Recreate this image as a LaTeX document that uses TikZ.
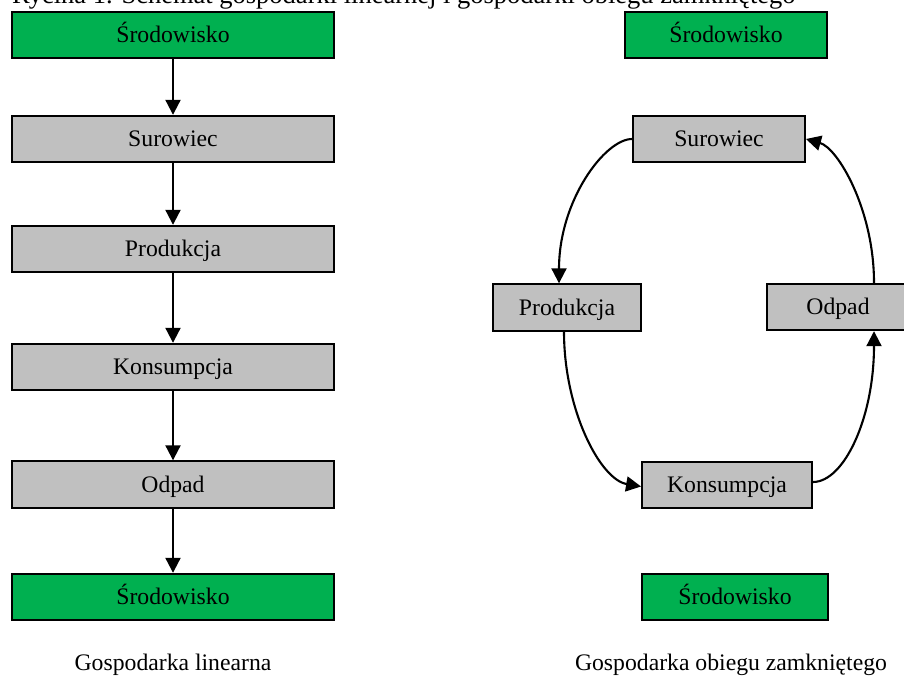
\documentclass[tikz,border=0pt]{standalone}
\usepackage{fontspec}
\setmainfont{Liberation Serif}
\usetikzlibrary{arrows.meta}
\definecolor{envgreen}{HTML}{00B050}
\definecolor{boxgray}{HTML}{C0C0C0}
\begin{document}
\begin{tikzpicture}[x=1pt,y=-1pt,
  box/.style={draw=black, line width=1.9pt, fill=boxgray, minimum height=46.5pt,
    inner sep=0pt, text height=15.7pt, text depth=0pt,
    font=\fontsize{23.7}{28}\selectfont, anchor=center},
  env/.style={box, fill=envgreen},
  arr/.style={line width=2.1pt, -{Triangle[length=15pt,width=15pt]}},
  lbl/.style={inner sep=0pt, anchor=base, font=\fontsize{23.7}{28}\selectfont}
]
\useasboundingbox (0,0) rectangle (904,675);
\node[anchor=base west, inner sep=0pt, font=\fontsize{26.5}{30}\selectfont] (title) at (12,3.5)
  {Rycina 1. Schemat gospodarki linearnej i gospodarki obiegu zamkniętego};

% linear economy
\node[env, minimum width=322pt] (LE1) at (173,35) {Środowisko};
\node[box, minimum width=322pt] (LS) at (173,139) {Surowiec};
\node[box, minimum width=322pt] (LP) at (173,249) {Produkcja};
\node[box, minimum width=322pt] (LK) at (173,367) {Konsumpcja};
\node[box, minimum width=322pt] (LO) at (173,484.5) {Odpad};
\node[env, minimum width=322pt] (LE2) at (173,597) {Środowisko};
\draw[arr] (LE1.south) -- (LS.north);
\draw[arr] (LS.south) -- (LP.north);
\draw[arr] (LP.south) -- (LK.north);
\draw[arr] (LK.south) -- (LO.north);
\draw[arr] (LO.south) -- (LE2.north);
\node[lbl] (cap1) at (173,670) {Gospodarka linearna};

% circular economy
\node[env, minimum width=202pt] (RE1) at (726,35) {Środowisko};
\node[box, minimum width=172pt] (RS) at (719,139) {Surowiec};
\node[box, minimum width=148pt] (RP) at (567,307.5) {Produkcja};
\node[box, minimum width=142pt] (RO) at (838,307) {Odpad};
\node[box, minimum width=170pt] (RK) at (727,485) {Konsumpcja};
\node[env, minimum width=186pt] (RE2) at (735,597) {Środowisko};
\draw[arr] (RS.west) .. controls +(-27,0) and +(0,-83) .. ([xshift=-8pt]RP.north);
\draw[arr] ([xshift=-3pt]RP.south) .. controls +(0,78) and +(-41,-7) .. ([yshift=-1.5pt]RK.west);
\draw[arr] ([yshift=3pt]RK.east) .. controls +(31,0) and +(0,87) .. ([xshift=36pt]RO.south);
\draw[arr] ([xshift=36pt]RO.north) .. controls +(0,-73) and +(32,9) .. (RS.east);
\node[lbl] (cap2) at (731,670) {Gospodarka obiegu zamkniętego};
\end{tikzpicture}
\end{document}
